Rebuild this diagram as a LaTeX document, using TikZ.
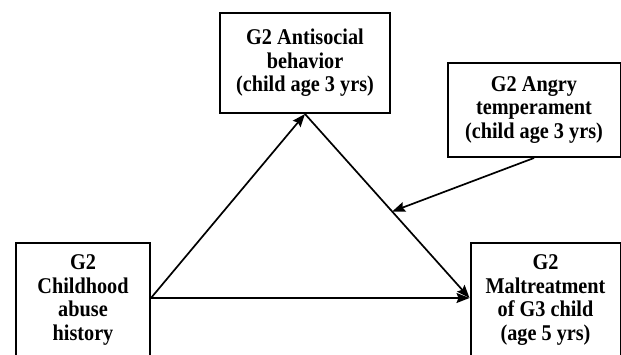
\documentclass[tikz,border=0pt]{standalone}
\usepackage{fontspec}
\setmainfont{Liberation Serif}[FakeStretch=0.9]
\usetikzlibrary{arrows.meta,calc}
\begin{document}
\begin{tikzpicture}[x=1pt,y=1pt,
  box/.style={draw=black,line width=2pt,fill=white,align=center,inner sep=0pt,
    font=\fontsize{22.5}{23.5}\selectfont\bfseries},
  conn/.style={line width=1.7pt,-{Stealth[length=13pt,width=10pt,inset=2pt]}}]
\useasboundingbox (0,0) rectangle (621,355);
\node[box,minimum width=170pt,minimum height=100pt] (top) at (305,292)
  {G2 Antisocial\\behavior\\(child age 3 yrs)};
\node[box,minimum width=173pt,minimum height=94pt] (angry) at (534,245)
  {G2 Angry\\temperament\\(child age 3 yrs)};
\node[box,minimum width=134pt,minimum height=114pt] (left) at (83,55)
  {G2\\Childhood\\abuse\\history};
\node[box,minimum width=150pt,minimum height=114pt] (right) at (545.5,55)
  {G2\\Maltreatment\\of G3 child\\(age 5 yrs)};
\coordinate (src) at ([yshift=2pt]left.east);
\coordinate (dst) at ([yshift=2pt]right.west);
\coordinate (mod) at ($(top.south)!0.53!(dst)$);
\draw[conn] (src) -- (top.south);
\draw[conn] (top.south) -- (dst);
\draw[conn] (src) -- (dst);
\draw[conn] (angry.south) -- (mod);
\end{tikzpicture}
\end{document}
